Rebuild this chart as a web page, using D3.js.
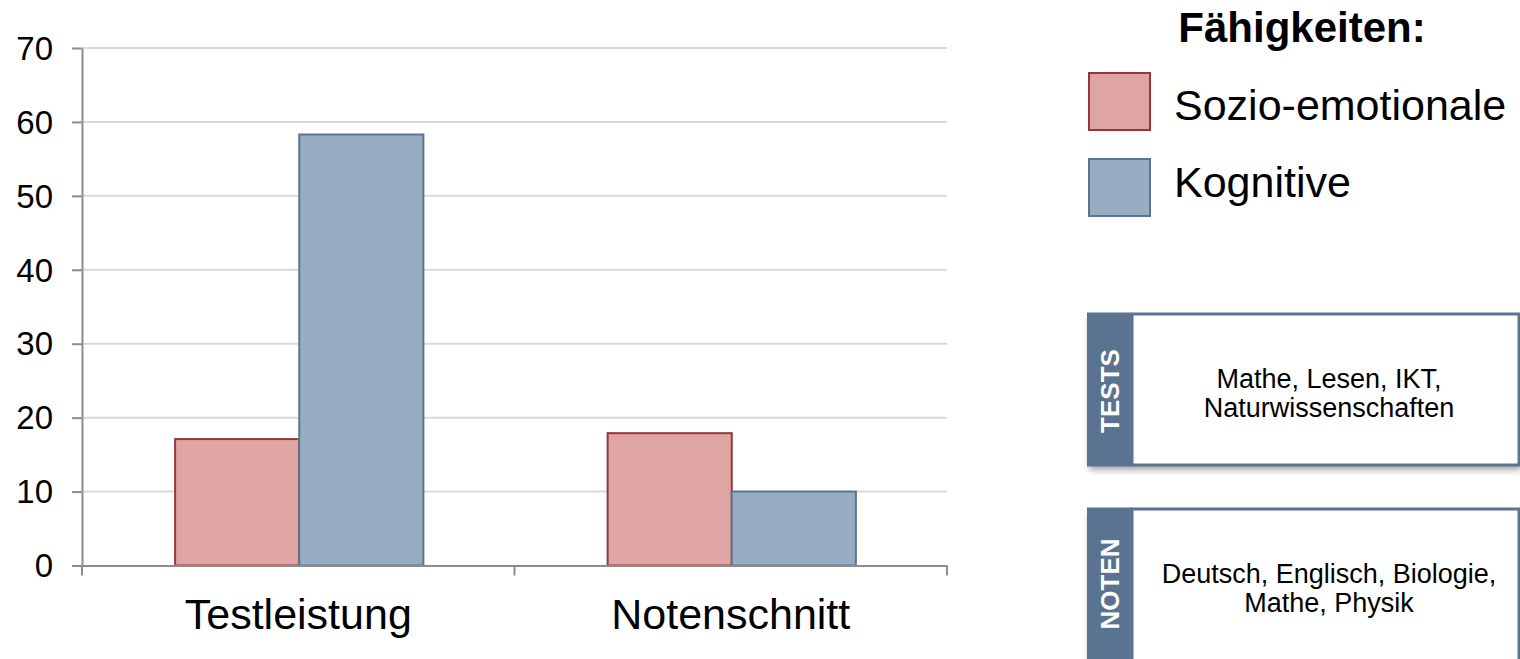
<!DOCTYPE html>
<html>
<head>
<meta charset="utf-8">
<script src="https://cdn.jsdelivr.net/npm/d3@7"></script>
<style>
  html, body { margin: 0; padding: 0; background: #fff; }
  svg { display: block; font-family: "Liberation Sans", Arial, sans-serif; }
</style>
</head>
<body>
<svg id="chart" width="1520" height="659"></svg>
<script>
// Categories and series
const categories = ["Testleistung", "Notenschnitt"];
const seriesNames = ["Sozio-emotionale", "Kognitive"];
const sozioValues = [17.1, 17.9];
const kognitiveValues = [58.3, 10.0];
const yTicks = [0, 10, 20, 30, 40, 50, 60, 70];
const legendTitle = "Fähigkeiten:";
const infoLabels = ["TESTS", "NOTEN"];
const infoLines = [
  ["Mathe, Lesen, IKT,", "Naturwissenschaften"],
  ["Deutsch, Englisch, Biologie,", "Mathe, Physik"]
];

const fills = ["#dfa5a4", "#98adc2"];
const strokes = ["#973735", "#5b7593"];

const svg = d3.select("#chart");

const plot = { left: 82, right: 947, top: 48, bottom: 565.5 };

const y = d3.scaleLinear().domain([0, 70]).range([plot.bottom, plot.top]);
const x0 = d3.scaleBand().domain(categories).range([plot.left, plot.right]).padding(0);
const groupW = x0.bandwidth() * 0.574;
const x1 = d3.scaleBand().domain(seriesNames).range([0, groupW]).padding(0);

// Horizontal gridlines
svg.append("g")
  .selectAll("line")
  .data(yTicks.filter(d => d > 0))
  .join("line")
  .attr("x1", plot.left).attr("x2", plot.right)
  .attr("y1", d => y(d)).attr("y2", d => y(d))
  .attr("stroke", "#d9d9d9").attr("stroke-width", 2);

// Y axis
const yAxis = svg.append("g")
  .attr("transform", `translate(${plot.left},0)`)
  .call(d3.axisLeft(y).tickValues(yTicks).tickSize(10).tickPadding(19).tickSizeOuter(0));
yAxis.select(".domain").attr("stroke", "#8c8c8c").attr("stroke-width", 2);
yAxis.selectAll(".tick line").attr("stroke", "#8c8c8c").attr("stroke-width", 2);
yAxis.selectAll(".tick text")
  .attr("font-size", 33).attr("fill", "#000")
  .attr("font-family", "'Liberation Sans', Arial, sans-serif")
  .attr("dy", "0.34em");

// Bars
const rows = categories.map((c, i) => ({ cat: c, vals: [sozioValues[i], kognitiveValues[i]] }));
const groups = svg.append("g")
  .selectAll("g")
  .data(rows)
  .join("g")
  .attr("transform", d => `translate(${x0(d.cat) + (x0.bandwidth() - groupW) / 2 + 1},0)`);

groups.selectAll("rect")
  .data(d => d.vals.map((v, j) => ({ name: seriesNames[j], v, j })))
  .join("rect")
  .attr("x", d => x1(d.name))
  .attr("width", x1.bandwidth())
  .attr("y", d => y(d.v))
  .attr("height", d => y(0) - y(d.v))
  .attr("fill", d => fills[d.j])
  .attr("stroke", d => strokes[d.j])
  .attr("stroke-width", 2);

// X axis
const xAxis = svg.append("g")
  .attr("transform", `translate(0,${plot.bottom})`)
  .call(d3.axisBottom(x0).tickSize(0).tickPadding(33).tickSizeOuter(0));
xAxis.select(".domain").attr("stroke", "#8c8c8c").attr("stroke-width", 2);
xAxis.selectAll(".tick text")
  .attr("font-size", 43).attr("fill", "#000")
  .attr("font-family", "'Liberation Sans', Arial, sans-serif");
// category boundary ticks
const boundaries = [plot.left, x0(categories[1]), plot.right];
xAxis.selectAll("line.bound")
  .data(boundaries)
  .join("line")
  .attr("class", "bound")
  .attr("x1", d => d).attr("x2", d => d)
  .attr("y1", 0).attr("y2", 10)
  .attr("stroke", "#8c8c8c").attr("stroke-width", 2);

// Legend
const legend = svg.append("g");
legend.append("text")
  .attr("x", 1302).attr("y", 42)
  .attr("text-anchor", "middle")
  .attr("font-size", 42).attr("font-weight", "bold")
  .text(legendTitle);
const legendRows = [{ y: 73, yText: 120 }, { y: 159, yText: 197 }];
seriesNames.forEach((name, i) => {
  legend.append("rect")
    .attr("x", 1089).attr("y", legendRows[i].y)
    .attr("width", 61).attr("height", 57)
    .attr("fill", fills[i]).attr("stroke", strokes[i]).attr("stroke-width", 2);
  legend.append("text")
    .attr("x", 1174).attr("y", legendRows[i].yText)
    .attr("font-size", 43)
    .text(name);
});

// Info boxes
const defs = svg.append("defs");
const f = defs.append("filter").attr("id", "shadow")
  .attr("x", "-5%").attr("y", "-10%").attr("width", "115%").attr("height", "130%");
f.append("feDropShadow").attr("dx", 2).attr("dy", 5).attr("stdDeviation", 3)
  .attr("flood-color", "#000").attr("flood-opacity", 0.35);

const boxes = [
  { top: 314, bottom: 465, labelY: 391, lineY: [388, 417] },
  { top: 509, bottom: 672, labelY: 584, lineY: [583, 612] }
];
const stripX = 1087, stripW = 45, boxRight = 1519;
boxes.forEach((b, i) => {
  const g = svg.append("g");
  g.append("rect")
    .attr("x", stripX).attr("y", b.top)
    .attr("width", boxRight - stripX).attr("height", b.bottom - b.top)
    .attr("fill", "#fff").attr("filter", "url(#shadow)");
  g.append("rect")
    .attr("x", stripX + stripW).attr("y", b.top)
    .attr("width", boxRight - stripX - stripW).attr("height", b.bottom - b.top)
    .attr("fill", "#fff").attr("stroke", "#5a7391").attr("stroke-width", 3);
  g.append("rect")
    .attr("x", stripX).attr("y", b.top - 1.5)
    .attr("width", stripW).attr("height", b.bottom - b.top + 3)
    .attr("fill", "#5a7391");
  g.append("text")
    .attr("transform", `translate(${stripX + stripW / 2 + 9},${b.labelY}) rotate(-90)`)
    .attr("text-anchor", "middle")
    .attr("font-size", 26).attr("font-weight", "bold").attr("fill", "#fff")
    .text(infoLabels[i]);
  infoLines[i].forEach((line, k) => {
    g.append("text")
      .attr("x", 1329).attr("y", b.lineY[k])
      .attr("text-anchor", "middle")
      .attr("font-size", 27).attr("fill", "#000")
      .text(line);
  });
});
</script>
</body>
</html>
